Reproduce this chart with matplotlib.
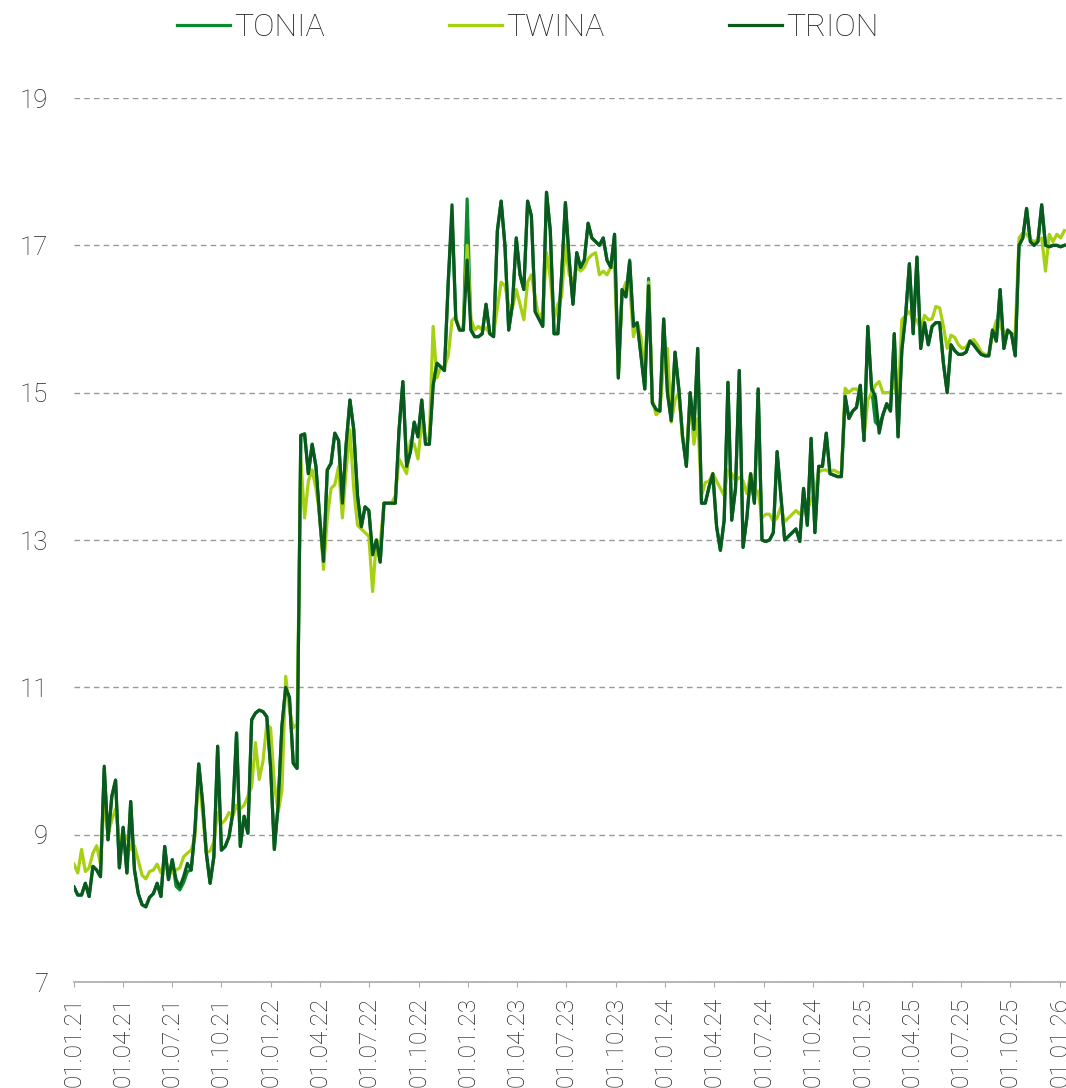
import matplotlib
matplotlib.use("Agg")
import matplotlib.pyplot as plt
import pandas as pd

# Weekly rate fixings, percent
tonia = [8.29, 8.18, 8.18, 8.34, 8.16, 8.57, 8.52, 8.43, 9.9, 8.93,
         9.52, 9.74, 8.55, 9.1, 8.48, 9.45, 8.52, 8.2, 8.05, 8.02,
         8.15, 8.2, 8.34, 8.16, 8.84, 8.39, 8.66, 8.3, 8.25, 8.35,
         8.5, 8.52, 9.07, 9.96, 9.45, 8.75, 8.34, 8.7, 10.2, 8.79,
         8.84, 8.97, 9.29, 10.38, 8.84, 9.25, 9.02, 10.56, 10.65, 10.69,
         10.67, 10.6, 9.93, 8.8, 9.4, 10.47, 11.0, 10.86, 9.97, 9.9,
         14.42, 14.44, 13.9, 14.3, 14.0, 13.3, 12.71, 13.95, 14.04, 14.45,
         14.35, 13.5, 14.3, 14.9, 14.5, 13.6, 13.18, 13.45, 13.4, 12.8,
         13.0, 12.7, 13.5, 13.5, 13.5, 13.5, 14.5, 15.15, 14.0, 14.2,
         14.6, 14.4, 14.9, 14.3, 14.3, 15.1, 15.4, 15.35, 15.3, 16.5,
         17.4, 16.0, 15.85, 15.85, 17.63, 15.85, 15.76, 15.76, 15.8, 16.2,
         15.8, 15.76, 17.2, 17.6, 17.0, 15.85, 16.2, 17.1, 16.6, 16.4,
         17.6, 17.4, 16.1, 16.0, 15.9, 17.72, 17.2, 15.8, 15.8, 16.6,
         17.58, 16.8, 16.2, 16.9, 16.7, 16.8, 17.3, 17.1, 17.05, 17.0,
         17.1, 16.8, 16.7, 17.15, 15.2, 16.4, 16.3, 16.8, 15.9, 15.95,
         15.5, 15.05, 16.55, 14.86, 14.77, 14.75, 16.0, 15.0, 14.62, 15.55,
         15.05, 14.4, 14.0, 15.0, 14.5, 15.6, 13.5, 13.5, 13.72, 13.9,
         13.18, 12.86, 13.27, 15.14, 13.27, 13.7, 15.3, 12.9, 13.3, 13.9,
         13.5, 15.05, 13.0, 12.98, 13.0, 13.1, 14.2, 13.6, 13.0, 13.05,
         13.1, 13.15, 12.98, 13.7, 13.2, 14.38, 13.1, 14.0, 14.0, 14.45,
         13.9, 13.88, 13.86, 13.86, 14.95, 14.65, 14.75, 14.8, 15.1, 14.35,
         15.9, 15.06, 14.6, 14.55, 14.7, 14.85, 14.75, 15.8, 14.4, 15.58,
         16.05, 16.75, 15.8, 16.84, 15.6, 15.95, 15.65, 15.9, 15.95, 15.95,
         15.4, 15.0, 15.65, 15.57, 15.52, 15.52, 15.55, 15.7, 15.65, 15.58,
         15.52, 15.5, 15.5, 15.85, 15.7, 16.4, 15.6, 15.85, 15.8, 15.5,
         17.0, 17.1, 17.5, 17.05, 17.0, 17.05, 17.55, 17.0, 16.98, 17.0,
         17.0, 16.98, 17.0]

twina = [8.6, 8.48, 8.8, 8.5, 8.55, 8.75, 8.85, 8.6, 9.45, 9.0,
         9.2, 9.35, 8.95, 8.9, 8.97, 8.8, 8.85, 8.65, 8.45, 8.4,
         8.5, 8.52, 8.6, 8.48, 8.56, 8.52, 8.48, 8.52, 8.55, 8.7,
         8.75, 8.79, 8.97, 9.85, 9.3, 8.75, 8.78, 8.9, 9.3, 9.15,
         9.2, 9.3, 9.25, 9.4, 9.35, 9.4, 9.52, 9.65, 10.25, 9.75,
         10.0, 10.5, 10.45, 9.7, 9.3, 9.6, 11.15, 10.7, 10.45, 10.5,
         14.1, 13.3, 13.8, 13.95, 13.7, 13.35, 12.6, 13.3, 13.7, 13.75,
         14.0, 13.3, 13.95, 14.5, 13.7, 13.2, 13.15, 13.1, 13.05, 12.3,
         13.0, 12.95, 13.5, 13.5, 13.5, 13.6, 14.1, 14.0, 13.9, 14.35,
         14.3, 14.1, 14.6, 14.35, 14.4, 15.9, 15.2, 15.35, 15.35, 15.5,
         15.98, 16.03, 15.85, 15.9, 17.0, 16.0, 15.85, 15.9, 15.85, 15.88,
         15.8, 15.8, 16.15, 16.5, 16.45, 16.2, 16.15, 16.4, 16.2, 15.99,
         16.5, 16.6, 16.3, 16.0, 16.1, 16.9, 16.56, 15.99, 16.2, 16.3,
         17.0, 16.6, 16.5, 16.7, 16.65, 16.7, 16.82, 16.87, 16.9, 16.6,
         16.65, 16.6, 16.7, 16.7, 15.25, 16.35, 16.5, 16.45, 15.76, 15.95,
         15.75, 15.2, 16.5, 14.9, 14.7, 14.75, 15.4, 15.6, 14.6, 14.9,
         15.0, 14.35, 14.2, 14.9, 14.3, 14.65, 13.6, 13.78, 13.8, 13.9,
         13.8, 13.7, 13.6, 13.95, 13.9, 13.8, 13.85, 13.8, 13.63, 13.9,
         13.7, 13.65, 13.3, 13.35, 13.35, 13.25, 13.3, 13.45, 13.25, 13.3,
         13.35, 13.4, 13.35, 13.45, 13.4, 13.55, 13.65, 13.92, 13.95, 13.95,
         13.92, 13.95, 13.92, 13.9, 15.06, 15.0, 15.05, 15.05, 15.0, 14.4,
         14.9, 15.0, 15.1, 15.15, 15.0, 15.0, 15.0, 15.15, 14.85, 15.99,
         16.05, 16.1, 15.99, 15.99, 15.85, 16.05, 15.99, 16.0, 16.17, 16.15,
         15.9, 15.6, 15.78, 15.75, 15.65, 15.6, 15.62, 15.7, 15.72, 15.65,
         15.55, 15.52, 15.5, 15.8, 15.98, 15.9, 15.8, 15.85, 15.8, 15.8,
         17.1, 17.17, 17.15, 17.08, 17.05, 17.08, 17.1, 16.65, 17.15, 17.05,
         17.15, 17.1, 17.2]

trion = [8.29, 8.18, 8.18, 8.34, 8.16, 8.57, 8.52, 8.43, 9.93, 8.93,
         9.52, 9.74, 8.55, 9.1, 8.48, 9.45, 8.52, 8.2, 8.05, 8.02,
         8.15, 8.2, 8.34, 8.16, 8.84, 8.39, 8.66, 8.39, 8.29, 8.43,
         8.61, 8.52, 9.07, 9.96, 9.45, 8.75, 8.34, 8.7, 10.2, 8.79,
         8.84, 8.97, 9.29, 10.38, 8.84, 9.25, 9.02, 10.56, 10.65, 10.69,
         10.67, 10.6, 9.93, 8.8, 9.4, 10.47, 11.0, 10.86, 9.97, 9.9,
         14.42, 14.44, 13.9, 14.3, 14.0, 13.3, 12.71, 13.95, 14.04, 14.45,
         14.35, 13.5, 14.3, 14.9, 14.5, 13.6, 13.18, 13.45, 13.4, 12.8,
         13.0, 12.7, 13.5, 13.5, 13.5, 13.5, 14.5, 15.15, 14.0, 14.2,
         14.6, 14.4, 14.9, 14.3, 14.3, 15.1, 15.4, 15.35, 15.3, 16.5,
         17.55, 16.0, 15.85, 15.85, 16.8, 15.85, 15.76, 15.76, 15.8, 16.2,
         15.8, 15.76, 17.2, 17.6, 17.0, 15.85, 16.2, 17.1, 16.6, 16.4,
         17.6, 17.4, 16.1, 16.0, 15.9, 17.72, 17.2, 15.8, 15.8, 16.6,
         17.58, 16.8, 16.2, 16.9, 16.7, 16.8, 17.3, 17.1, 17.05, 17.0,
         17.1, 16.8, 16.7, 17.15, 15.2, 16.4, 16.3, 16.78, 15.9, 15.95,
         15.5, 15.05, 16.45, 14.86, 14.77, 14.75, 16.0, 15.0, 14.62, 15.55,
         15.05, 14.4, 14.0, 15.0, 14.5, 15.6, 13.5, 13.5, 13.72, 13.9,
         13.18, 12.86, 13.27, 15.14, 13.27, 13.7, 15.3, 12.9, 13.3, 13.9,
         13.5, 15.05, 13.0, 12.98, 13.0, 13.1, 14.2, 13.6, 13.0, 13.05,
         13.1, 13.15, 12.98, 13.7, 13.2, 14.38, 13.1, 14.0, 14.0, 14.45,
         13.9, 13.88, 13.86, 13.86, 14.95, 14.65, 14.75, 14.8, 15.1, 14.35,
         15.9, 15.06, 14.95, 14.45, 14.7, 14.85, 14.75, 15.8, 14.4, 15.58,
         16.05, 16.75, 15.8, 16.84, 15.6, 15.95, 15.65, 15.9, 15.95, 15.95,
         15.4, 15.0, 15.65, 15.57, 15.52, 15.52, 15.55, 15.7, 15.65, 15.58,
         15.52, 15.5, 15.5, 15.85, 15.7, 16.4, 15.6, 15.85, 15.8, 15.5,
         17.0, 17.1, 17.5, 17.05, 17.0, 17.05, 17.55, 17.0, 16.98, 17.0,
         17.0, 16.98, 17.0]

dates = pd.date_range("2021-01-01", periods=len(trion), freq="7D")
quarters = pd.date_range("2021-01-01", "2026-01-01", freq="QS")

plt.rcParams['font.family'] = ['Roboto', 'DejaVu Sans']
plt.rcParams['font.weight'] = 'light'
text_color = '#222222'

fig = plt.figure(figsize=(10.66, 10.88), dpi=100)
ax = fig.add_axes([74 / 1066, 106 / 1088, 992 / 1066, 884 / 1088])

ax.plot(dates, tonia, color='#0b8a30', lw=2.3, label='TONIA')
ax.plot(dates, twina, color='#a6d012', lw=2.3, label='TWINA')
ax.plot(dates, trion, color='#0a5a1f', lw=2.3, label='TRION')

ax.set_ylim(7, 19)
ax.set_yticks(range(7, 20, 2))
ax.set_xlim(pd.Timestamp("2021-01-01"), pd.Timestamp("2026-01-12"))
ax.set_xticks(quarters)
ax.set_xticklabels([d.strftime("%d.%m.%y") for d in quarters], rotation=90, va='top')

ax.yaxis.grid(True, ls=(0, (4, 3)), color='#999999', lw=1)
ax.set_axisbelow(True)
for side in ('top', 'right', 'left'):
    ax.spines[side].set_visible(False)
ax.spines['bottom'].set_color('#aaaaaa')
ax.spines['bottom'].set_linewidth(1.2)

ax.tick_params(axis='y', length=0, pad=18.5, labelsize=18.5, labelcolor=text_color)
ax.tick_params(axis='x', length=3.6, color='#aaaaaa', pad=7, labelsize=17.5,
               labelcolor=text_color)

fig.legend(loc='upper center', bbox_to_anchor=(0.495, 1.0055), ncol=3, frameon=False,
           fontsize=23, handlelength=1.66, handletextpad=0.12, columnspacing=3.9,
           borderaxespad=0.2, labelcolor=text_color)

fig.savefig("out.png", dpi=100)
